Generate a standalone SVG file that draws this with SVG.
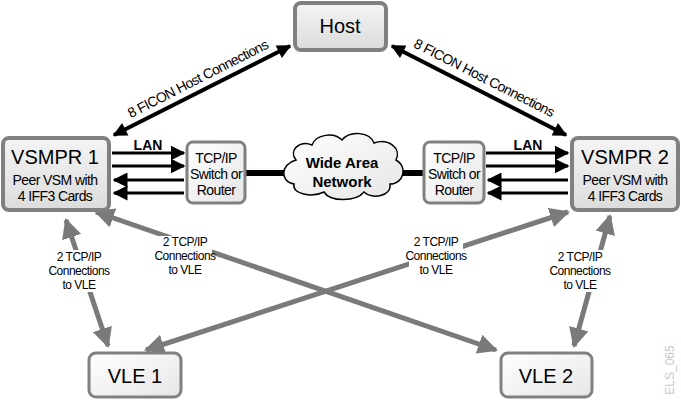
<svg xmlns="http://www.w3.org/2000/svg" width="681" height="400" viewBox="0 0 681 400">
<defs>
<linearGradient id="g" x1="0" y1="0" x2="0" y2="1"><stop offset="0" stop-color="#f4f4f4"/><stop offset="1" stop-color="#dcdcdc"/></linearGradient>
<linearGradient id="w" x1="0" y1="0" x2="1" y2="1"><stop offset="0" stop-color="#ffffff"/><stop offset="1" stop-color="#e6e6e6"/></linearGradient>
<marker id="ab" viewBox="0 0 10 10" refX="9" refY="5" markerWidth="4" markerHeight="3.5" orient="auto-start-reverse"><path d="M0,0L10,5L0,10z" fill="#000"/></marker>
<marker id="ag" viewBox="0 0 10 10" refX="9" refY="5" markerWidth="4" markerHeight="4" orient="auto-start-reverse"><path d="M0,0L10,5L0,10z" fill="#7a7a7a"/></marker>
<marker id="al" viewBox="0 0 10 10" refX="9" refY="5" markerWidth="5" markerHeight="5" orient="auto"><path d="M0,0L10,5L0,10z" fill="#000"/></marker>
</defs>
<style>
.n{fill:url(#g);stroke:#808080;stroke-width:4}
.s{fill:url(#w);stroke:#808080;stroke-width:3}
.t{font-family:"Liberation Sans",Arial,sans-serif;text-anchor:middle;fill:#000}
.k{stroke:#000;stroke-width:4;fill:none}
.l{stroke:#000;stroke-width:3;fill:none;marker-end:url(#al)}
.gr{stroke:#7a7a7a;stroke-width:5;fill:none;marker-start:url(#ag);marker-end:url(#ag)}
.c{font-size:12px;letter-spacing:-0.5px}
.m{font-size:14px;letter-spacing:-0.6px}
</style>
<g id="connectors">
<line class="k" x1="114" y1="135" x2="290" y2="46" marker-start="url(#ab)" marker-end="url(#ab)"/>
<line class="k" x1="392" y1="46" x2="566" y2="135" marker-start="url(#ab)" marker-end="url(#ab)"/>
<line class="l" x1="112" y1="153" x2="184" y2="153"/>
<line class="l" x1="112" y1="166" x2="184" y2="166"/>
<line class="l" x1="184" y1="180" x2="114" y2="180"/>
<line class="l" x1="184" y1="193" x2="114" y2="193"/>
<line class="l" x1="486" y1="153" x2="568" y2="153"/>
<line class="l" x1="486" y1="166" x2="568" y2="166"/>
<line class="l" x1="568" y1="180" x2="488" y2="180"/>
<line class="l" x1="568" y1="193" x2="488" y2="193"/>
<line x1="246" y1="173" x2="290" y2="173" stroke="#000" stroke-width="6"/>
<line x1="395" y1="173" x2="424" y2="173" stroke="#000" stroke-width="6"/>
<line class="gr" x1="66" y1="220" x2="108" y2="346"/>
<line class="gr" x1="96" y1="212" x2="496" y2="350"/>
<line class="gr" x1="568" y1="212" x2="146" y2="350"/>
<line class="gr" x1="610" y1="216" x2="574" y2="346"/>
<g class="t c">
<rect x="53" y="250" width="52" height="42" fill="#fff"/>
<text x="79" y="261">2 TCP/IP</text><text x="79" y="275">Connections</text><text x="79" y="289">to VLE</text>
<rect x="158" y="236" width="54" height="44" fill="#fff"/>
<text x="185" y="246">2 TCP/IP</text><text x="185" y="260">Connections</text><text x="185" y="274">to VLE</text>
<rect x="409" y="236" width="54" height="44" fill="#fff"/>
<text x="436" y="246">2 TCP/IP</text><text x="436" y="260">Connections</text><text x="436" y="274">to VLE</text>
<rect x="554" y="250" width="52" height="42" fill="#fff"/>
<text x="580" y="261">2 TCP/IP</text><text x="580" y="275">Connections</text><text x="580" y="289">to VLE</text>
</g>
<text class="t m" transform="translate(200,83) rotate(-27)">8 FICON Host Connections</text>
<text class="t m" transform="translate(482,82) rotate(27)">8 FICON Host Connections</text>
<text class="t" font-size="14" font-weight="bold" x="148" y="150">LAN</text>
<text class="t" font-size="14" font-weight="bold" x="528" y="150">LAN</text>
</g>
<g id="host"><rect class="n" x="295" y="3" width="91" height="47" rx="6"/><text class="t" x="340" y="33" font-size="20">Host</text></g>
<g id="vsmpr1"><rect class="n" x="3" y="138" width="106" height="72" rx="6"/><text class="t" x="55" y="164" font-size="20">VSMPR 1</text><text class="t m" x="55" y="185">Peer VSM with</text><text class="t m" x="55" y="201">4 IFF3 Cards</text></g>
<g id="vsmpr2"><rect class="n" x="572" y="138" width="106" height="72" rx="6"/><text class="t" x="625" y="164" font-size="20">VSMPR 2</text><text class="t m" x="625" y="185">Peer VSM with</text><text class="t m" x="625" y="201">4 IFF3 Cards</text></g>
<g id="sw1"><rect class="s" x="187" y="142" width="58" height="61" rx="6"/><text class="t m" x="216" y="163">TCP/IP</text><text class="t m" x="216" y="179">Switch or</text><text class="t m" x="216" y="195">Router</text></g>
<g id="sw2"><rect class="s" x="424" y="142" width="60" height="61" rx="6"/><text class="t m" x="454" y="163">TCP/IP</text><text class="t m" x="454" y="179">Switch or</text><text class="t m" x="454" y="195">Router</text></g>
<g id="wan"><path d="M296,160 C288,150 300,140 312,145 C316,134 334,132 342,140 C350,130 370,132 374,143 C388,138 402,148 396,160 C408,166 404,184 390,184 C392,196 372,200 364,192 C356,202 330,202 324,192 C312,198 292,194 294,184 C280,182 280,164 296,160 Z" fill="url(#w)" stroke="#000" stroke-width="1.5"/><text class="t" font-weight="bold" font-size="15" x="342" y="168">Wide Area</text><text class="t" font-weight="bold" font-size="15" x="342" y="187">Network</text></g>
<g id="vle1"><rect class="s" x="89" y="353" width="92" height="44" rx="7"/><text class="t" x="135" y="383" font-size="20">VLE 1</text></g>
<g id="vle2"><rect class="s" x="501" y="353" width="91" height="44" rx="7"/><text class="t" x="546" y="383" font-size="20">VLE 2</text></g>
<text class="t" font-size="12" style="fill:#c8c8c8" transform="translate(674,370) rotate(-90)">ELS_065</text>
</svg>
